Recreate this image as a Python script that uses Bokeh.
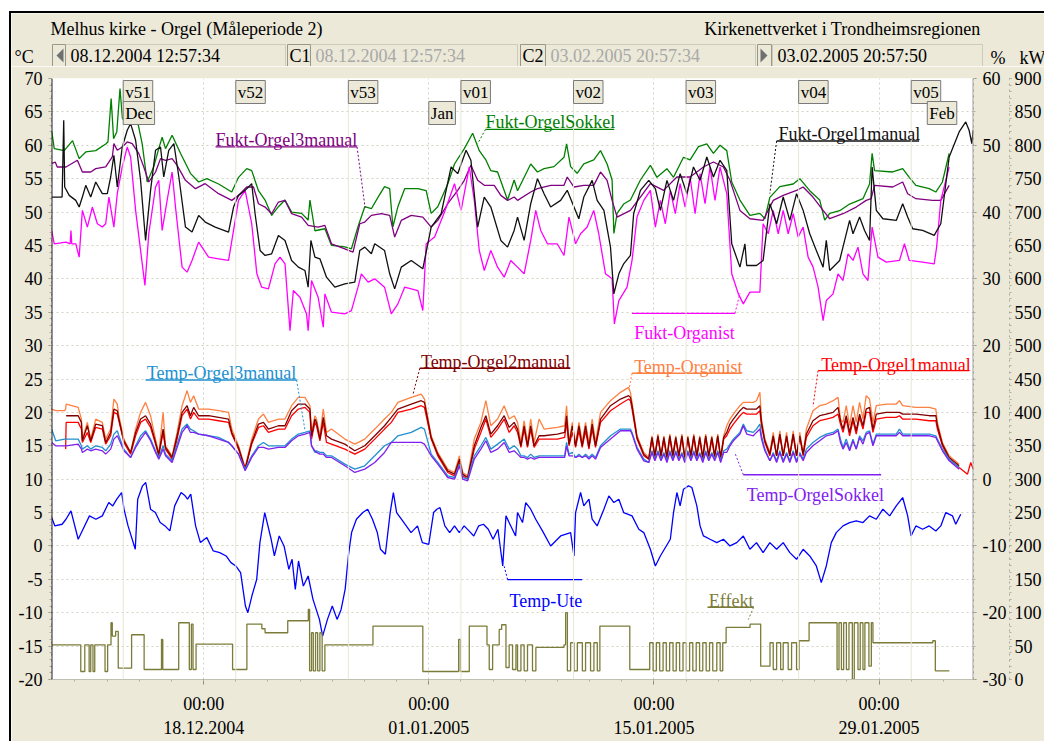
from datetime import datetime
from bokeh.plotting import figure
from bokeh.layouts import column
from bokeh.models import (Range1d, LinearAxis, DatetimeTickFormatter, FixedTicker,
                          SingleIntervalTicker, Label, Span, CustomJSTickFormatter)
from bokeh.embed import file_html
from bokeh.resources import INLINE
from bokeh.core.properties import value

NaN = float("nan")

# ------------------------------------------------------------------ data
# time is given in days since 08.12.2004 00:00
T_START = 0.5400     # 08.12.2004 12:57:34
T_END = 57.8735      # 03.02.2005 20:57:50

TITLE = "Melhus kirke - Orgel (Måleperiode 2)"
ORGANISATION = "Kirkenettverket i Trondheimsregionen"
CURSOR_TEXTS = ["08.12.2004 12:57:34", "C1", "08.12.2004 12:57:34", "C2",
                "03.02.2005 20:57:34", "03.02.2005 20:57:50"]

MAJOR_DAYS = [10, 24, 38, 52]            # 18.12.2004, 01.01.2005, 15.01.2005, 29.01.2005
WEEK_DAYS = [5, 12, 19, 26, 33, 40, 47, 54]
WEEK_NAMES = ["v51", "v52", "v53", "v01", "v02", "v03", "v04", "v05"]
MONTH_DAYS = [5, 24, 55]
MONTH_NAMES = ["Dec", "Jan", "Feb"]

# Relative humidity, % (right axis)
fukt_sokkel = [
    (0.55, 52.2), (0.71, 49.5), (1.33, 49.2), (1.85, 50.7), (2.26, 48.0), (2.67, 49.0), (3.29, 49.2),
    (3.91, 50.2), (4.05, 50.5), (4.25, 57.0), (4.4, 51.0), (4.6, 52.0), (4.8, 58.5), (4.95, 54.0),
    (5.04, 53.8), (5.46, 54.8), (5.87, 53.8), (6.18, 50.2), (6.49, 44.5), (6.9, 46.8), (7.21, 49.5),
    (7.42, 51.2), (7.63, 49.5), (8.04, 51.5), (8.56, 48.8), (9.18, 45.8), (9.69, 44.5), (10.2, 45.0),
    (10.93, 44.2), (11.75, 43.0), (12.17, 45.2), (12.68, 46.5), (12.99, 46.2), (13.41, 43.2),
    (13.82, 41.8), (14.23, 39.5), (14.65, 40.8), (15.06, 41.8), (15.47, 40.0), (16.09, 39.8),
    (16.5, 38.8), (16.61, 41.8), (16.92, 37.2), (17.54, 37.5), (17.95, 35.0), (18.78, 34.8),
    (19.19, 34.5), (19.6, 37.8), (20.02, 40.8), (20.43, 40.5), (20.84, 42.2), (21.25, 43.8),
    (21.57, 43.5), (21.77, 37.8), (22.08, 40.8), (22.5, 43.5), (23.32, 43.5), (23.84, 43.2),
    (24.15, 39.8), (24.56, 40.8), (25.18, 44.2), (25.6, 47.2), (26.21, 49.5), (26.73, 51.8),
    (27.14, 49.2), (27.55, 47.8), (27.86, 46.2), (28.28, 46.0), (28.9, 41.8), (29.31, 44.8),
    (29.52, 43.2), (30.34, 47.2), (30.76, 46.0), (31.17, 46.5), (31.79, 46.8), (32.41, 48.2),
    (32.57, 50.2), (32.82, 46.8), (33.23, 45.8), (33.64, 47.2), (34.26, 47.8), (34.68, 49.2),
    (35.09, 47.2), (35.4, 44.8), (35.51, 36.8), (35.71, 39.8), (36.12, 41.2), (36.54, 41.8),
    (37.16, 44.8), (37.78, 47.0), (38.19, 45.2), (38.81, 46.5), (39.22, 45.2), (39.84, 48.2),
    (40.25, 47.8), (40.77, 49.8), (41.29, 50.2), (41.7, 48.8), (42.11, 50.0), (42.53, 49.2),
    (42.84, 44.5), (43.35, 41.8), (43.97, 39.5), (44.59, 39.8), (44.9, 39.0), (45.21, 42.2),
    (45.83, 43.8), (46.66, 44.2), (47.07, 45.0), (47.69, 43.2), (48.31, 41.8), (48.62, 38.8),
    (48.93, 39.8), (49.55, 40.2), (50.17, 41.2), (51.0, 42.0), (51.41, 44.2), (51.57, 48.8),
    (51.72, 46.2), (52.85, 46.0), (53.47, 46.5), (53.88, 45.2), (54.29, 44.0), (55.12, 43.5),
    (55.53, 43.0), (55.94, 44.5), (56.36, 48.8),
]
fukt_orgel3 = [
    (0.55, 47.25), (0.77, 47.5), (0.9, 46.75), (1.44, 46.75), (2.15, 47.75), (2.46, 46), (2.98, 46),
    (3.29, 46.5), (3.91, 46.75), (4.32, 48.25), (4.42, 50.25), (4.63, 49.25), (4.94, 49.75),
    (5.25, 50.5), (5.56, 50.25), (5.97, 48.75), (6.28, 46.75), (6.59, 44.5), (7.01, 46), (7.32, 48),
    (7.63, 47.75), (8.04, 48), (8.35, 47), (8.87, 44.75), (9.49, 43.5), (10.1, 44.25), (10.93, 42.75),
    (11.75, 41.75), (12.17, 42.5), (12.68, 43.75), (13.1, 43.75), (13.41, 41.25), (13.82, 40.75),
    (14.23, 39.75), (14.65, 41.5), (15.06, 41.75), (15.47, 39.75), (16.09, 39.25), (16.5, 38),
    (17.12, 37.75), (17.54, 38), (17.95, 35.25), (18.78, 34.5), (19.29, 34), (19.71, 38.25),
    (20.02, 38.5), (20.43, 39.5), (21.05, 39.75), (21.57, 39.5), (21.88, 36.25), (22.29, 38.75),
    (22.91, 39.5), (23.63, 39.25), (24.15, 37.75), (24.56, 38.75), (25.18, 41.25), (25.8, 43.25),
    (26.21, 44.75), (26.62, 47), (27.04, 44.75), (27.45, 44), (28.07, 44), (28.48, 42.5),
    (28.9, 41.75), (29.31, 42.25), (29.52, 41.75), (30.34, 43), (30.76, 43.5), (31.58, 44),
    (32.41, 44), (32.61, 45.25), (33.03, 43.75), (33.64, 44), (34.26, 44), (34.68, 46), (35.09, 44.75),
    (35.4, 41.75), (35.71, 39.25), (36.54, 40.25), (37.16, 42.25), (37.78, 44.25), (38.6, 43.25),
    (39.43, 45.25), (40.25, 45.25), (41.08, 46.75), (41.7, 47.5), (42.32, 46.75), (42.73, 44.75),
    (43.35, 40.25), (43.97, 39), (44.79, 38.75), (45.42, 41.75), (46.04, 42.5), (46.87, 43.25),
    (47.28, 43.75), (47.89, 42.25), (48.52, 40.25), (48.93, 39), (49.76, 39.75), (50.58, 40.75),
    (51.2, 41.75), (51.51, 42), (51.72, 44), (52.85, 43.75), (53.47, 44.5), (53.78, 42.75),
    (54.29, 42), (55.32, 41.75), (55.84, 41.75), (56.36, 44),
]
fukt_orgel1 = [
    (0.55, 42.25), (1.2, 42.25), (1.3, 53.75), (1.36, 43.75), (1.64, 42.5), (2.05, 41.75), (2.26, 40.75),
    (2.46, 42.25), (2.67, 44), (2.98, 42.25), (3.29, 44.5), (3.7, 42.75), (4.01, 42.75), (4.22, 45.25),
    (4.42, 48.5), (4.63, 43.75), (4.94, 49.75), (5.25, 52.25), (5.46, 53.25), (5.77, 50.75),
    (6.08, 44.75), (6.39, 35.75), (6.7, 43.25), (7.01, 49.25), (7.32, 49.75), (7.52, 45.25),
    (7.83, 49.25), (8.15, 50.25), (8.46, 45.25), (8.87, 37.75), (9.28, 37), (9.69, 39.5), (10.1, 38.5),
    (10.72, 37.75), (11.55, 37), (11.86, 40.75), (12.17, 42.5), (12.58, 43.25), (12.99, 44.25),
    (13.2, 39.75), (13.51, 34.25), (13.82, 33.5), (14.23, 33.75), (14.65, 36.5), (15.06, 35.75),
    (15.47, 32.75), (15.89, 31.75), (16.3, 31.25), (16.5, 28.75), (16.67, 35.75), (16.92, 33.25),
    (17.23, 33), (17.64, 30.25), (18.16, 28.75), (18.78, 29.25), (19.4, 29.5), (19.71, 34.25),
    (20.02, 34.75), (20.43, 33.75), (20.64, 35.25), (21.25, 34.25), (21.57, 30.75), (21.88, 28.5),
    (22.29, 31.75), (22.91, 32.75), (23.63, 31.5), (24.15, 37.75), (24.77, 39.75), (25.39, 46.75),
    (25.8, 45.75), (26.32, 49.25), (26.62, 47.75), (27.04, 37.75), (27.45, 42.25), (27.86, 40.75),
    (28.48, 35.75), (28.9, 34.75), (29.31, 37.25), (29.52, 39.25), (29.93, 35.75), (30.34, 41.25),
    (30.76, 45), (31.17, 42.75), (31.58, 40.75), (32.2, 41.75), (32.61, 43.25), (33.03, 40.75),
    (33.33, 39), (33.64, 42.25), (34.16, 44.75), (34.47, 41.75), (34.89, 40.25), (35.3, 34.75),
    (35.51, 27.75), (35.82, 30.75), (36.12, 32.25), (36.54, 33.5), (36.74, 39.75), (37.16, 43.25),
    (37.68, 44.75), (38.09, 43.5), (38.4, 40.25), (38.81, 44.75), (39.22, 41.75), (39.63, 45.75),
    (40.05, 42.75), (40.46, 46.75), (40.87, 44.75), (41.29, 48.25), (41.7, 45.25), (42.11, 47.75),
    (42.53, 46.25), (42.84, 35.25), (43.35, 31.75), (43.66, 35.25), (43.77, 32), (44.38, 32),
    (44.79, 32.75), (45.21, 41.25), (45.63, 38.25), (46.04, 42.25), (46.45, 38.75), (46.87, 42.75),
    (47.28, 40.25), (47.69, 36.75), (48.1, 34.25), (48.52, 31.75), (48.72, 35.75), (48.93, 31.25),
    (49.55, 32.75), (49.86, 35.75), (50.17, 38.75), (50.38, 36.75), (50.79, 39.25), (51.1, 37.25),
    (51.41, 35.75), (51.57, 46.75), (51.83, 40.25), (52.24, 39), (53.07, 38.75), (53.47, 41.25),
    (53.78, 39.25), (54.09, 37.5), (54.71, 37.25), (55.43, 36.5), (55.84, 38.25), (56.36, 48.25),
    (56.98, 52), (57.39, 53.5), (57.6, 52.25), (57.77, 50.25), (57.85, 52.25),
]
fukt_organist = [
    (0.55, 37.25), (0.71, 35.25), (1.44, 35.5), (1.7, 35.25), (1.75, 37.25), (1.8, 35.25), (2.05, 35.25),
    (2.26, 33.25), (2.46, 40.25), (2.77, 37.75), (3.08, 40.75), (3.39, 38.25), (3.7, 37.75), (3.91, 38.25),
    (4.11, 42.25), (4.42, 37.75), (4.63, 42.75), (4.94, 46.75), (5.25, 49.75), (5.46, 48.25), (5.77, 40.25),
    (6.08, 34.25), (6.35, 29), (6.59, 36.75), (7.01, 43.75), (7.21, 44.75), (7.42, 37.25), (7.73, 41.75),
    (8.04, 46), (8.25, 40.75), (8.66, 31.75), (8.97, 31), (9.28, 32.75), (9.69, 35.5), (10.31, 33.25),
    (10.93, 33), (11.55, 32.75), (11.86, 37.25), (12.17, 41.75), (12.58, 43.25), (12.99, 38.25),
    (13.31, 30.75), (13.61, 28.75), (14.03, 28.5), (14.44, 32.25), (14.75, 33.25), (15.06, 32.25),
    (15.37, 22.25), (15.58, 28.25), (15.99, 27.25), (16.4, 24.75), (16.5, 22.25), (16.71, 29.75),
    (17.12, 27.25), (17.44, 22.75), (17.54, 27.75), (17.95, 25), (18.78, 24.75), (19.19, 25.25),
    (19.6, 28.75), (19.81, 30.75), (20.23, 29.5), (20.64, 30), (21.25, 28.75), (21.67, 24.75),
    (22.08, 26.25), (22.5, 28.75), (23.32, 28.25), (23.63, 25.25), (23.84, 35.25), (24.36, 36.25),
    (24.98, 40), (25.6, 44.25), (26.01, 40.25), (26.52, 46.75), (26.83, 41.75), (27.14, 34.25),
    (27.45, 31.25), (27.86, 34.25), (28.28, 31.75), (28.69, 30.25), (29.1, 32.75), (29.52, 31.75),
    (29.93, 30.75), (30.34, 35.75), (30.65, 40.25), (30.96, 37.25), (31.38, 35.25), (31.99, 35.25),
    (32.41, 33.5), (32.72, 39.25), (33.13, 35.25), (33.44, 36.75), (33.85, 37.75), (34.26, 40.25),
    (34.57, 36.75), (34.99, 30.75), (35.4, 30), (35.54, 23.25), (35.82, 26.75), (36.33, 28.75),
    (36.64, 32.75), (36.95, 39.25), (37.37, 41.75), (37.78, 43.25), (38.09, 37.75), (38.4, 41.75),
    (38.71, 38.25), (39.02, 43.25), (39.33, 39.75), (39.63, 44.25), (39.94, 40.75), (40.25, 45.25),
    (40.56, 39.75), (40.87, 45.75), (41.18, 41.25), (41.49, 46.75), (41.8, 41.75), (42.11, 46.75),
    (42.53, 42.75), (42.84, 30.75), (43.25, 27.75), (43.56, 26.25), (43.97, 28), (44.59, 28),
    (44.79, 38.25), (45.11, 36.75), (45.42, 40.25), (45.73, 36.75), (46.04, 40.25), (46.35, 36.75),
    (46.66, 39.75), (46.97, 36.25), (47.28, 37.75), (47.59, 33.25), (47.9, 31.75), (48.21, 28.75),
    (48.52, 23.75), (48.72, 26.75), (49.14, 27.75), (49.45, 30.75), (49.76, 29.75), (50.07, 33.75),
    (50.38, 32.75), (50.69, 34.75), (51.0, 30.75), (51.31, 29.75), (51.57, 37.75), (51.93, 33.25),
    (52.45, 32.5), (53.27, 32.75), (53.58, 35.25), (53.88, 32.75), (54.71, 32.5), (55.43, 32.25),
    (55.58, 34.75), (55.84, 41.75), (56.36, 46.75),
]

# Temperatures, °C (left axis) on a shared time grid
temp_t = [
    0.55, 0.8, 1.35, 1.42, 1.45, 2.2, 2.4, 2.46, 2.77, 2.98,
    3.29, 3.7, 3.91, 4.22, 4.42, 4.63, 4.73, 5.04, 5.46, 5.77,
    6.08, 6.39, 6.7, 7.01, 7.21, 7.48, 7.63, 8.04, 8.35, 8.66,
    8.97, 9.18, 9.38, 9.69, 10.31, 10.93, 11.55, 11.75, 12.17, 12.58,
    12.99, 13.41, 13.72, 14.03, 14.65, 15.06, 15.47, 15.89, 16.3, 16.61,
    16.71, 16.92, 17.02, 17.23, 17.44, 17.64, 17.95, 18.78, 19.4, 20.02,
    20.64, 21.25, 21.67, 22.08, 22.91, 23.53, 23.73, 24.15, 24.56, 25.18,
    25.6, 25.91, 26.11, 26.42, 26.83, 27.24, 27.55, 27.86, 28.28, 28.69,
    29.0, 29.31, 29.52, 29.73, 29.93, 30.14, 30.34, 30.55, 30.86, 31.17,
    32.0, 32.45, 32.57, 32.72, 32.93, 33.13, 33.34, 33.54, 33.75, 33.96,
    34.16, 34.37, 34.68, 35.3, 35.92, 36.43, 36.54, 36.64, 36.95, 37.37,
    37.68, 37.88, 38.06, 38.25, 38.44, 38.62, 38.81, 38.99, 39.18, 39.36,
    39.55, 39.74, 39.92, 40.11, 40.3, 40.48, 40.67, 40.85, 41.04, 41.22,
    41.41, 41.6, 41.78, 41.97, 42.15, 42.34, 42.53, 42.73, 42.94, 43.35,
    43.56, 43.77, 44.18, 44.38, 44.59, 44.69, 44.9, 45.21, 45.42, 45.63,
    45.83, 46.04, 46.25, 46.45, 46.66, 46.87, 47.07, 47.28, 47.48, 47.89,
    48.31, 48.72, 49.14, 49.45, 49.6, 49.76, 49.96, 50.17, 50.38, 50.58,
    50.79, 51.0, 51.2, 51.41, 51.62, 51.83, 52.45, 53.07, 53.27, 53.47,
    54.29, 55.12, 55.53, 55.63, 55.94, 56.36, 56.98, 57.5, 57.7, 57.85,
]
temp_organist = [
    20.5, 20.25, 20.25, 20.5, 21.25, 20.75, 19, 16, 18.5, 16,
    19, 18.5, 16, 17.5, 22, 21.25, 19.5, 16, 14, 17.5,
    20, 21.5, 19.5, 16, 13.75, 20, 15, 13.5, 17, 21,
    23.25, 21.5, 22.5, 20.5, 20.5, 20.25, 20, 17.5, 15, 11.75,
    16, 19, 19.75, 18.5, 19, 19, 21, 22.25, 22.25, 21,
    17, 19.5, 19, 16.5, 20.5, 17, 17.5, 16, 15.25, 16,
    17.5, 19, 20, 21.5, 22.25, 22.75, 22, 16.5, 14, 11.5,
    11, 13.5, 11, 10.5, 16, 18.5, 21.75, 18, 19, 21,
    19, 19.5, 18.5, 15.5, 18.75, 15.5, 19, 15.5, 19, 17.5,
    17.75, 18, 21, 15.5, 18.5, 15.25, 18.5, 15.5, 18.5, 15.25,
    19, 15.5, 20, 21.75, 23, 23.75, 23, 21.5, 16.5, 14,
    13.25, 16.5, 13.5, 16.75, 13.5, 16.5, 13.25, 16.75, 13.5, 16.5,
    13.5, 16.75, 13.25, 16.5, 13.5, 16.75, 13.5, 16.5, 13.25, 16.75,
    13.5, 16.5, 13.5, 16.75, 13.25, 16.5, 18, 19, 19.75, 21,
    21.5, 21.5, 21.5, 21.75, 23, 19, 16, 14, 17, 13.5,
    17.25, 13.5, 17, 13.5, 17.25, 13.5, 17, 13.75, 17.5, 20.25,
    21, 21.25, 21.75, 22.25, 19, 18.5, 21, 18, 21, 18.5,
    21.5, 19, 22.5, 22, 18.5, 21, 21.25, 21.25, 21.75, 21,
    20.75, 20.75, 20.5, 18.5, 15.5, 13.5, 12.25, NaN, NaN, NaN,
]
temp_orgel2 = [
    NaN, NaN, NaN, NaN, 19.5, 19.5, 18.5, 15.75, 18, 15.75,
    18.25, 18, 15.5, 17, 20.5, 20.25, 19, 15.75, 14, 17,
    19, 19.5, 18.25, 15.5, 13.75, 17.5, 14.75, 13.25, 16.5, 20,
    21, 19.5, 20.75, 19.5, 19.5, 19.25, 19, 17, 14.75, 11.5,
    15.5, 18.25, 18.5, 17.5, 18, 18, 20.25, 21.25, 21.25, 20.5,
    16.5, 19, 18.5, 16, 19.25, 16.5, 16, 15.25, 14.25, 15,
    16.5, 18, 19.25, 20.5, 21.25, 21.75, 21.5, 16.25, 13.75, 11.25,
    10.75, 13, 10.75, 10.25, 15, 17.75, 19.5, 16.75, 18, 19.5,
    17.75, 18.5, 17.5, 15, 18, 15, 18, 15, 16.5, 16.5,
    16.75, 17, 19.5, 15.25, 18, 15, 18, 15, 18, 14.75,
    18.25, 15, 19, 21, 22, 22.5, 22.25, 21, 16.25, 13.75,
    13, 16.25, 13.5, 16.5, 13.5, 16.25, 13.25, 16.5, 13.5, 16.25,
    13.5, 16.5, 13.25, 16.25, 13.5, 16.5, 13.5, 16.25, 13.25, 16.5,
    13.5, 16.25, 13.5, 16.5, 13.25, 16.25, 17, 18.25, 19, 20.25,
    20.75, 20.5, 20.5, 20.5, 21, 18.5, 15.75, 13.75, 16.5, 13.5,
    16.75, 13.5, 16.5, 13.5, 16.75, 13.5, 16.5, 13.75, 16.75, 18.75,
    19.5, 19.75, 20, 20.75, 18.75, 17.5, 19.5, 17, 19.25, 17.25,
    19.75, 18, 20.5, 20.75, 17.5, 19.75, 20, 20, 20, 19.75,
    19.75, 19.5, 19.5, 18, 15.25, 13.25, 12, NaN, NaN, NaN,
]
temp_orgel1 = [
    NaN, NaN, NaN, 14.5, 18.5, 18.5, 17.5, 15.5, 17, 15.5,
    17.75, 17.5, 15.25, 16.5, 20, 19.75, 18.75, 15.5, 13.75, 16.5,
    18.5, 19, 17.75, 15.25, 13.5, 17, 14.5, 13, 16, 19.5,
    20.5, 19, 20, 19, 19, 18.75, 18.5, 16.75, 14.5, 11.5,
    15.25, 17.75, 18, 17, 17.5, 17.5, 19.5, 20.5, 20.75, 20,
    16, 18.5, 18, 15.75, 18.5, 15.5, 15.25, 14.5, 13.75, 14.5,
    16, 17.5, 18.5, 20, 20.5, 21, 20.75, 16, 13.5, 11,
    10.5, 12.75, 10.5, 10, 14.5, 17, 19, 16.25, 17.5, 19,
    17, 18, 17, 14.75, 17.5, 14.75, 17.5, 14.75, 16, 16,
    16, 16.25, 18.5, 15, 17, 14.75, 17.25, 14.75, 17.25, 14.5,
    17.5, 14.75, 18.5, 20.25, 21.25, 22, 21.75, 20.5, 16, 13.5,
    13, 16, 13.25, 16.25, 13.25, 16, 13, 16.25, 13.25, 16,
    13.25, 16.25, 13, 16, 13.25, 16.25, 13.25, 16, 13, 16.25,
    13.25, 16, 13.25, 16.25, 13, 16, 16.5, 17.5, 18.25, 19.5,
    20, 19.75, 19.75, 19.75, 20.25, 18, 15.5, 13.5, 16.25, 13.5,
    16.5, 13.5, 16.25, 13.5, 16.5, 13.5, 16.25, 13.5, 16.25, 18,
    18.75, 19, 19.25, 19.75, 18.25, 17, 19, 16.5, 18.75, 16.75,
    19.25, 17.5, 20, 20, 17, 19, 19.25, 19.25, 19.5, 19,
    19, 18.75, 18.75, 17.5, 15, 13, 11.75, 10.75, 12.5, 11.5,
]
temp_orgel3 = [
    17.5, 15.75, 16, 16, 16, 16, 15, 14.5, 15, 14.5,
    15, 14.75, 14.25, 15.25, 16.75, 17.25, 16.5, 14.5, 13.25, 15,
    16.5, 17.25, 16, 14.25, 13.25, 15, 13.75, 12.75, 15.25, 17.5,
    18.25, 17.5, 17.25, 16.75, 16.5, 16.25, 15.5, 15, 13.75, 11.5,
    13.5, 15, 15.5, 15, 15, 15, 16, 16.75, 17, 17.25,
    15, 14, 14.25, 14, 14, 13.5, 13.5, 12.25, 11.5, 12,
    13.5, 15, 15.5, 16.5, 17, 17.75, 17.5, 13.75, 12.5, 10.5,
    10.25, 12.25, 10.25, 10, 13.5, 15, 16.25, 14.5, 15.25, 16,
    14.5, 15, 14.5, 13.5, 13.5, 13.25, 13.75, 13.25, 13.5, 13.5,
    13.5, 13.5, 15.5, 13.75, 14, 13.25, 13.75, 13.25, 13.75, 13.25,
    13.75, 13.25, 15, 16.5, 17.5, 17.5, 17.5, 17, 14.75, 13,
    12.5, 14.25, 13, 14.25, 13, 14, 12.75, 14.25, 13, 14.25,
    13, 14, 12.75, 14.25, 13, 14.25, 13, 14, 12.75, 14.25,
    13, 14, 13, 14.25, 12.75, 14.25, 14.5, 15.25, 16, 17,
    18.25, 17.25, 17, 17.5, 18.25, 16.5, 14.5, 12.75, 14, 12.75,
    14.25, 12.75, 14, 12.75, 14.25, 12.75, 14, 13, 14.5, 15.5,
    16.25, 16.75, 17, 17.5, 16, 14.75, 16, 14.5, 16, 14.5,
    16.5, 15.75, 17, 17.25, 15.25, 16.75, 16.75, 16.75, 17.5, 16.75,
    16.75, 16.75, 16.5, 16, 14.5, 13, 11.75, NaN, NaN, NaN,
]
temp_sokkel = [
    15.5, 15, 15, 15, 15, 15.25, 14.5, 14, 14.5, 14.25,
    14.5, 14.25, 13.75, 14.5, 16, 16.5, 16, 14.25, 13.25, 14.75,
    16, 17, 15.75, 14, 13, 14.5, 13.5, 12.5, 14.75, 17,
    18, 17, 17, 16.75, 16.5, 16, 15.5, 15, 13.75, 11.25,
    13.25, 14.75, 14.75, 14.5, 14.75, 14.75, 15.75, 16.5, 16.75, 17,
    15, 14.25, 14, 13.75, 13.75, 13.25, 13.25, 12, 11, 11.5,
    12.5, 14, 15.5, 15.5, 15.5, 15.5, 15.25, 13.5, 12.25, 10.25,
    10, 12, 10, 9.75, 13, 14.5, 15.75, 14, 14.5, 15.5,
    14, 14.25, 13.75, 13.25, 13.25, 13, 13.25, 13, 13.25, 13.25,
    13.25, 13.25, 15, 13.5, 13.5, 13.25, 13.5, 13.25, 13.5, 13,
    13.5, 13, 14.75, 16, 17.25, 17.25, 17.25, 16.75, 14.5, 12.75,
    12.5, 14, 12.75, 14, 12.75, 13.75, 12.5, 14, 12.75, 14,
    12.75, 13.75, 12.5, 14, 12.75, 14, 12.75, 13.75, 12.5, 14,
    12.75, 13.75, 12.75, 14, 12.5, 14, 14, 15, 15.75, 16.75,
    18, 16.75, 16.5, 17, 17.5, 16, 14.25, 12.75, 13.75, 12.5,
    14, 12.5, 13.75, 12.5, 14, 12.5, 13.75, 12.75, 14, 15,
    15.75, 16.5, 16.75, 17.25, 15.5, 14.5, 15.5, 14.25, 15.75, 14.5,
    16.25, 15.25, 16.75, 17, 15, 16.5, 16.5, 16.5, 17, 16.5,
    16.5, 16.5, 16.25, 15.75, 14.25, 12.75, 11.5, NaN, NaN, NaN,
]

# Outdoor temperature, °C
temp_ute = [
    (0.55, 4.25), (0.75, 3), (1.2, 3.25), (1.44, 4), (1.75, 5.25), (2.2, 1), (2.5, 2.5), (2.9, 4.5),
    (3.3, 4), (3.7, 4.5), (4.1, 6.5), (4.35, 6), (4.6, 7), (4.9, 8), (5.05, 5.5), (5.3, 3), (5.75, -0.5),
    (5.9, 7), (6.2, 9), (6.4, 9.5), (6.7, 5.5), (7.0, 5), (7.3, 3.5), (7.6, 3), (7.9, 2.25), (8.2, 6),
    (8.6, 8), (8.85, 7.5), (9.0, 7), (9.2, 7.75), (9.5, 3), (9.8, 0.5), (10.2, 1.25), (10.6, -0.75),
    (11.0, -1), (11.4, -1.5), (11.7, -2.5), (12.0, -3), (12.3, -4), (12.6, -9), (12.75, -10),
    (13.0, -7.5), (13.3, -5), (13.5, 0.5), (13.8, 5), (14.2, 1), (14.4, -1.5), (14.7, 1.5), (15.0, 0),
    (15.3, -3.5), (15.5, -2), (15.7, -6.5), (15.9, -2.25), (16.2, -6), (16.5, -4.5), (16.8, -8),
    (17.2, -11), (17.4, -13.5), (17.7, -11), (18.0, -9), (18.3, -11), (18.55, -9.5), (18.8, -6.5),
    (19.0, -1.5), (19.2, 2), (19.5, 4), (19.9, 5), (20.2, 5.5), (20.5, 4), (20.8, 2), (21.0, -0.5),
    (21.3, -1.25), (21.6, 5), (21.8, 8), (22.0, 5), (22.3, 4), (22.6, 3), (22.9, 2), (23.3, 3),
    (23.6, 0.5), (24.0, 0.25), (24.3, 5), (24.5, 5.5), (24.7, 5.75), (25.0, 3), (25.3, 2), (25.6, 3),
    (25.9, 2), (26.2, 3), (26.5, 2.25), (26.8, 1.5), (27.1, 3), (27.4, 3.25), (27.7, 2.5), (28.0, 1),
    (28.3, 2.5), (28.6, -3), (28.8, 4.5), (29.1, 3), (29.4, 1.5), (29.52, 5), (29.83, 3.5),
    (30.03, 6.5), (30.34, 5.5), (30.65, 4), (31.07, 2.25), (31.58, 0), (32.2, 1.5), (32.82, 2),
    (33.03, -1.5), (33.13, 5), (33.44, 8), (33.64, 6), (33.96, 7), (34.16, 4), (34.47, 3),
    (34.89, 5.5), (35.2, 7.5), (35.51, 6.5), (35.82, 7), (36.12, 5), (36.64, 4.5), (37.06, 2.5),
    (37.37, 2), (37.78, -0.5), (38.09, -3), (38.4, -1.5), (39.02, 1), (39.22, 5), (39.43, 8),
    (39.63, 6), (39.84, 8.5), (40.15, 9), (40.36, 8.75), (40.67, 6), (40.87, 3), (41.08, 1.5),
    (41.49, 1), (41.91, 0.5), (42.32, 1), (42.73, 0), (43.15, 0.5), (43.56, 1.5), (43.97, -0.5),
    (44.38, 0.5), (44.79, -1), (45.21, 0.5), (45.63, -0.5), (46.04, 0.5), (46.45, -1), (46.87, -2),
    (47.28, -0.5), (47.69, -1.5), (48.1, -3), (48.41, -5.5), (48.72, -3), (49.03, 0.5), (49.34, 2),
    (49.76, 3), (50.17, 3.5), (50.58, 3.75), (51.0, 3.5), (51.41, 4.5), (51.83, 4), (52.24, 5.5),
    (52.66, 4.5), (53.07, 6), (53.47, 7.25), (53.78, 4.5), (53.99, 1.5), (54.29, 3), (54.71, 2.5),
    (55.12, 3), (55.53, 2.25), (55.84, 3), (56.15, 5), (56.57, 4.5), (56.77, 3.25), (57.08, 4.75),
]

# Heating power, kW (second right axis) - value holds from each time until the next
effekt = [
    (0.54, 52), (2.36, 12), (2.61, 52), (2.88, 12), (2.98, 52), (3.12, 12), (3.23, 52), (3.87, 12),
    (4.03, 52), (4.24, 85), (4.32, 65), (4.53, 72), (4.69, 17), (5.52, 67), (6.3, 15), (7.38, 60),
    (7.46, 15), (8.45, 85), (9.11, 15), (9.24, 83), (9.34, 15), (9.53, 53), (11.8, 15), (12.69, 83),
    (13.62, 76), (13.82, 70), (15.23, 88), (16.51, 105), (16.59, 13), (16.71, 70), (16.82, 13),
    (16.96, 70), (17.09, 13), (17.23, 70), (17.37, 13), (17.54, 52), (20.53, 80), (23.63, 12),
    (25.86, 60), (25.97, 12), (26.52, 80), (27.62, 52), (27.76, 15), (27.97, 52), (28.38, 75),
    (28.53, 82), (28.8, 18), (29.0, 52), (29.21, 15), (29.42, 52), (29.52, 13), (29.73, 52),
    (29.93, 13), (30.14, 52), (30.45, 13), (30.66, 48), (32.41, 52), (32.51, 100), (32.62, 13),
    (32.82, 55), (33.03, 13), (33.24, 55), (33.55, 13), (33.75, 55), (34.06, 13), (34.27, 55),
    (34.48, 13), (34.64, 80), (36.5, 15), (37.74, 55), (37.95, 13), (38.15, 55), (38.36, 13),
    (38.57, 55), (38.77, 13), (38.98, 55), (39.19, 13), (39.39, 55), (39.6, 13), (39.81, 55),
    (40.01, 13), (40.22, 55), (40.42, 13), (40.63, 55), (40.84, 13), (41.04, 55), (41.25, 13),
    (41.46, 55), (41.66, 13), (41.91, 55), (42.12, 13), (42.28, 55), (42.49, 78), (43.98, 83),
    (44.64, 20), (45.22, 55), (45.42, 15), (45.63, 55), (45.88, 15), (46.04, 55), (46.35, 15),
    (46.56, 55), (46.87, 15), (47.03, 58), (47.65, 85), (49.39, 15), (49.51, 85), (49.66, 15),
    (49.8, 85), (49.97, 15), (50.13, 85), (50.34, 0), (50.46, 85), (50.69, 15), (50.83, 85),
    (51.0, 15), (51.12, 85), (51.37, 20), (51.52, 85), (51.62, 55), (55.34, 58), (55.5, 13),
    (56.37, 13),
]

# ------------------------------------------------------------------ styling
BEIGE = "#ECE9D8"
FONT = "Liberation Serif"
C_GREEN, C_PURPLE, C_BLACK, C_MAGENTA = "#008000", "#800080", "#101010", "#FF00FF"
C_TEAL, C_BROWN, C_ORANGE, C_RED = "#2090D0", "#800000", "#FF8040", "#FF0000"
C_VIOLET, C_BLUE, C_OLIVE = "#8020F0", "#0000FF", "#7C7C3A"

BASE_MS = (datetime(2004, 12, 8) - datetime(1970, 1, 1)).total_seconds() * 1000.0


def ms(d):
    return BASE_MS + d * 86400000.0


def split(pairs):
    return [ms(a) for a, _ in pairs], [b for _, b in pairs]


def no_frame_align(fig):
    if "frame_align" in fig.properties():
        fig.frame_align = False


W = 1033

# ------------------------------------------------------------------ header strip
HH = 53
hdr = figure(width=W, height=HH, x_range=Range1d(0, W), y_range=Range1d(HH, 0),
             toolbar_location=None, output_backend="svg", min_border=0,
             x_axis_location=None, y_axis_location=None,
             background_fill_color=BEIGE, border_fill_color=BEIGE, outline_line_color=None)
hdr.xgrid.visible = False
hdr.ygrid.visible = False
no_frame_align(hdr)

hdr.text(x=[39], y=[15], text=[TITLE], text_font=value(FONT), text_font_size="18px",
         text_baseline="middle", text_align="left", text_color="black")
hdr.text(x=[969], y=[15], text=[ORGANISATION], text_font=value(FONT), text_font_size="18px",
         text_baseline="middle", text_align="right", text_color="black")

# text boxes and buttons of the cursor row
hdr.quad(left=[54, 299, 534, 761], right=[274, 506, 744, 971], top=[31] * 4, bottom=[53] * 4,
         fill_color=BEIGE, line_color="#CFCBBB", line_width=1)
hdr.quad(left=[41, 276, 509, 746], right=[54, 299, 534, 760], top=[31] * 4, bottom=[53] * 4,
         fill_color=BEIGE, line_color="#9A978A", line_width=1)
hdr.patches(xs=[[52, 52, 45], [749, 749, 756]], ys=[[35, 49, 42], [35, 49, 42]],
            fill_color="#707070", line_color=None)
hdr.text(x=[59, 278, 304, 511, 539, 766], y=[42] * 6, text=CURSOR_TEXTS,
         text_color=["black", "black", "#A8A8A8", "black", "#A8A8A8", "black"],
         text_font=value(FONT), text_font_size="18px", text_baseline="middle", text_align="left")
hdr.text(x=[3, 979, 1008], y=[43, 44, 44], text=["°C", "%", "kW"], text_color="black",
         text_font=value(FONT), text_font_size="18px", text_baseline="middle", text_align="left")

# ------------------------------------------------------------------ main chart
p = figure(width=W, height=675, x_axis_type="datetime",
           x_range=Range1d(ms(T_START), ms(T_END)), y_range=Range1d(-20, 70),
           toolbar_location=None, output_backend="svg",
           min_border_left=40, min_border_top=12, min_border_bottom=62, min_border_right=0,
           background_fill_color="white", border_fill_color=BEIGE, outline_line_color=None)
p.extra_y_ranges = {"pct": Range1d(-30, 60), "kw": Range1d(0, 900)}
no_frame_align(p)


def style_axis(ax, standoff, tick_out=3):
    ax.major_label_text_font = FONT
    ax.major_label_text_font_size = "18px"
    ax.major_label_text_color = "black"
    ax.axis_line_color = "#A8A898"
    ax.axis_line_dash = "dotted"
    ax.major_tick_line_color = "#8C8C7C"
    ax.minor_tick_line_color = "#B0B0A0"
    ax.major_tick_in = 0
    ax.minor_tick_in = 0
    ax.major_tick_out = tick_out
    ax.minor_tick_out = 2
    ax.major_label_standoff = standoff


plain_numbers = CustomJSTickFormatter(code="return tick.toFixed(0);")

ya = p.yaxis[0]
ya.ticker = SingleIntervalTicker(interval=5, num_minor_ticks=5)
ya.formatter = plain_numbers
style_axis(ya, 6)

ax_pct = LinearAxis(y_range_name="pct", ticker=SingleIntervalTicker(interval=10, num_minor_ticks=2),
                    formatter=CustomJSTickFormatter(code="return tick.toFixed(0);"))
ax_kw = LinearAxis(y_range_name="kw", ticker=SingleIntervalTicker(interval=50, num_minor_ticks=5),
                   formatter=CustomJSTickFormatter(code="return tick.toFixed(0);"))
style_axis(ax_pct, 6)
style_axis(ax_kw, 3, tick_out=2)
p.add_layout(ax_pct, "right")
p.add_layout(ax_kw, "right")

xa = p.xaxis[0]
xa.ticker = FixedTicker(ticks=[ms(d) for d in MAJOR_DAYS],
                        minor_ticks=[ms(d) for d in range(2, 58, 2)])
fmt = "%H:%M\n%d.%m.%Y"
xa.formatter = DatetimeTickFormatter(microseconds=fmt, milliseconds=fmt, seconds=fmt, minsec=fmt,
                                     minutes=fmt, hourmin=fmt, hours=fmt, days=fmt,
                                     months=fmt, years=fmt)
style_axis(xa, 9, tick_out=5)
xa.axis_line_dash = "solid"
xa.axis_line_color = "#C0C0B0"

p.ygrid.ticker = SingleIntervalTicker(interval=5)
for g in (p.xgrid[0], p.ygrid[0]):
    g.grid_line_color = "#D2D2C4"
    g.grid_line_dash = "2 3"

for d in WEEK_DAYS:
    p.add_layout(Span(location=ms(d), dimension="height", line_color="#E8E6D6", line_width=1))
p.add_layout(Span(location=ms(T_START), dimension="height", line_color="#202020", line_width=2))
p.add_layout(Span(location=ms(T_END), dimension="height", line_color="#9C9C9C", line_width=2))

# --- series
LW = 1.3
for pairs, col in ((fukt_sokkel, C_GREEN), (fukt_orgel3, C_PURPLE),
                   (fukt_organist, C_MAGENTA), (fukt_orgel1, C_BLACK)):
    xs, ys = split(pairs)
    p.line(xs, ys, line_color=col, line_width=LW, y_range_name="pct")

n_t = len(temp_t)
for vals, col in ((temp_organist, C_ORANGE), (temp_orgel1, C_RED), (temp_orgel2, C_BROWN),
                  (temp_orgel3, C_TEAL), (temp_sokkel, C_VIOLET)):
    n = min(n_t, len(vals))
    p.line([ms(t) for t in temp_t[:n]], vals[:n], line_color=col, line_width=LW)

xs, ys = split(temp_ute)
p.line(xs, ys, line_color=C_BLUE, line_width=LW)

xs, ys = split(effekt)
p.step(xs, ys, mode="after", line_color=C_OLIVE, line_width=LW, y_range_name="kw")

# --- week / month markers at the top of the plot area
for d, name in zip(WEEK_DAYS, WEEK_NAMES):
    p.add_layout(Label(x=ms(d), y=70, text=name, text_baseline="top", text_align="left",
                       x_offset=0, y_offset=-2, padding=2, text_font=FONT, text_font_size="17px",
                       text_color="black", background_fill_color=BEIGE,
                       border_line_color="#7A7A7A"))
for d, name in zip(MONTH_DAYS, MONTH_NAMES):
    p.add_layout(Label(x=ms(d), y=70, text=name, text_baseline="top", text_align="left",
                       x_offset=0, y_offset=-23, padding=2, text_font=FONT, text_font_size="17px",
                       text_color="black", background_fill_color=BEIGE,
                       border_line_color="#7A7A7A"))

# --- series name tags (text, colour, text day, baseline °C, rule °C, rule from/to day,
#     leader end day/°C, leader starts at right end of rule?)
tags = [
    ("Fukt-Orgel3manual", C_PURPLE, 10.74, 60.73, 59.76, 10.74, 19.54, 20.04, 50.64, True),
    ("Fukt-OrgelSokkel", C_GREEN, 27.53, 63.42, 62.38, 27.53, 35.53, 27.04, 60.24, False),
    ("Fukt-Orgel1manual", C_BLACK, 45.75, 61.63, 60.63, 45.63, 54.49, 45.21, 52.77, False),
    ("Fukt-Organist", C_MAGENTA, 36.77, 31.88, 34.83, 36.64, 43.04, 43.35, 37.82, True),
    ("Temp-Orgel3manual", C_TEAL, 6.47, 25.9, 24.86, 6.39, 15.78, 16.3, 17.38, True),
    ("Temp-Orgel2manual", C_BROWN, 23.51, 27.55, 26.6, 23.44, 32.8, 23.01, 22.62, False),
    ("Temp-Organist", C_ORANGE, 36.77, 26.85, 25.86, 36.64, 43.46, 36.44, 23.36, False),
    ("Temp-Orgel1manual", C_RED, 48.41, 27.1, 26.25, 48.21, 57.6, 47.89, 20.87, False),
    ("Temp-OrgelSokkel", C_VIOLET, 43.77, 7.67, 10.66, 43.56, 52.13, 43.04, 13.9, False),
    ("Temp-Ute", C_BLUE, 29.02, -8.27, -5.04, 28.9, 33.54, 28.69, -3.05, False),
    ("Effekt", C_OLIVE, 41.41, -8.27, -9.18, 41.33, 44.2, 43.87, -11.02, True),
]
for txt, col, tx, ty, ry, rx0, rx1, lx, ly, from_right in tags:
    p.add_layout(Label(x=ms(tx), y=ty, text=txt, text_color=col, text_font=FONT,
                       text_font_size="18px", text_baseline="alphabetic", text_align="left"))
    p.segment(x0=[ms(rx0)], y0=[ry], x1=[ms(rx1)], y1=[ry], line_color=col, line_width=1.4)
    sx = rx1 if from_right else rx0
    p.segment(x0=[ms(sx)], y0=[ry], x1=[ms(lx)], y1=[ly], line_color=col, line_width=1,
              line_dash="2 2")

layout = column(hdr, p, spacing=0,
                styles={"margin-left": "9px", "margin-top": "11px",
                        "border-left": "2px solid black", "border-top": "2px solid black"})
open("out.html", "w").write(file_html(layout, INLINE, title="Melhus kirke - Orgel"))
